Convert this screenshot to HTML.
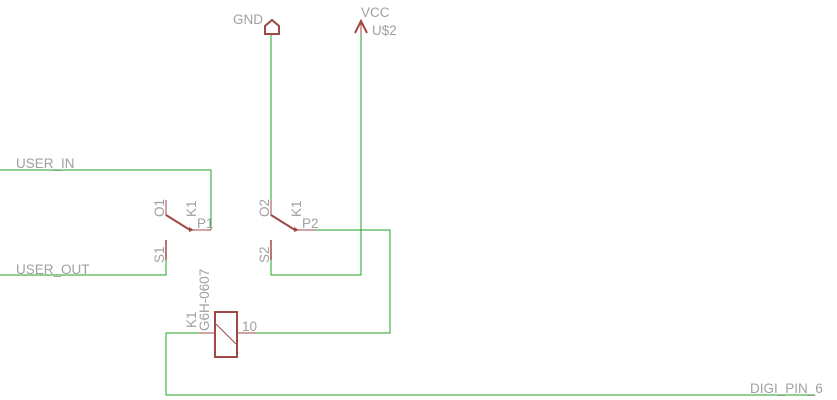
<!DOCTYPE html>
<html><head><style>body{margin:0;background:#fff}svg{display:block}text{font-family:"Liberation Sans",sans-serif;fill:#a0a0a0;font-size:13.5px}</style></head><body>
<svg width="837" height="400" xmlns="http://www.w3.org/2000/svg">
<g fill="none" stroke="#22a022" stroke-width="1">
<polyline points="0,170 211,170 211,230"/>
<polyline points="0,275 166,275 166,260"/>
<polyline points="271,35 271,203"/>
<polyline points="316,230 390,230 390,333 256,333"/>
<polyline points="271,260 271,275 361,275 361,35"/>
<polyline points="198,333 166,333 166,395 815,395"/>
</g>
<g stroke="#a04848" fill="none">
<line x1="166" y1="200" x2="166" y2="216" stroke-width="1"/>
<line x1="166" y1="215" x2="190" y2="230" stroke-width="2"/>
<line x1="190" y1="230" x2="211" y2="230"/>
<line x1="166" y1="240" x2="166" y2="260" stroke-width="1.5"/>
<line x1="271" y1="200" x2="271" y2="216"/>
<line x1="271" y1="215" x2="295" y2="230" stroke-width="2"/>
<line x1="295" y1="230" x2="316" y2="230"/>
<line x1="271" y1="240" x2="271" y2="260" stroke-width="1.5"/>
<rect x="215" y="312" width="22" height="45" stroke-width="2"/>
<line x1="216" y1="324" x2="236" y2="344"/>
<line x1="198" y1="333" x2="215" y2="333"/>
<line x1="237" y1="333" x2="256" y2="333"/>
<polygon points="265,34 265,26 272,20 279,26 279,34" stroke-width="2"/>
<line x1="361" y1="23" x2="361" y2="35"/>
<polyline points="355,33 361,21 367,33" stroke-width="2"/>
</g>
<polygon points="189,227 194,230 189,232" fill="#a04848"/>
<polygon points="294,227 299,230 294,232" fill="#a04848"/>
<text x="233" y="24">GND</text>
<text x="361" y="17">VCC</text>
<text x="372" y="35">U$2</text>
<text x="16" y="168">USER_IN</text>
<text x="16" y="274">USER_OUT</text>
<text x="197" y="228">P1</text>
<text x="302" y="228">P2</text>
<text x="242" y="331">10</text>
<text x="750" y="393">DIGI_PIN_6</text>
<text transform="translate(164,217) rotate(-90)">O1</text>
<text transform="translate(196,217) rotate(-90)">K1</text>
<text transform="translate(164,263) rotate(-90)">S1</text>
<text transform="translate(269,217) rotate(-90)">O2</text>
<text transform="translate(301,217) rotate(-90)">K1</text>
<text transform="translate(269,263) rotate(-90)">S2</text>
<text transform="translate(196,328) rotate(-90)">K1</text>
<text transform="translate(209,331) rotate(-90)">G6H-0607</text>
</svg>
</body></html>
